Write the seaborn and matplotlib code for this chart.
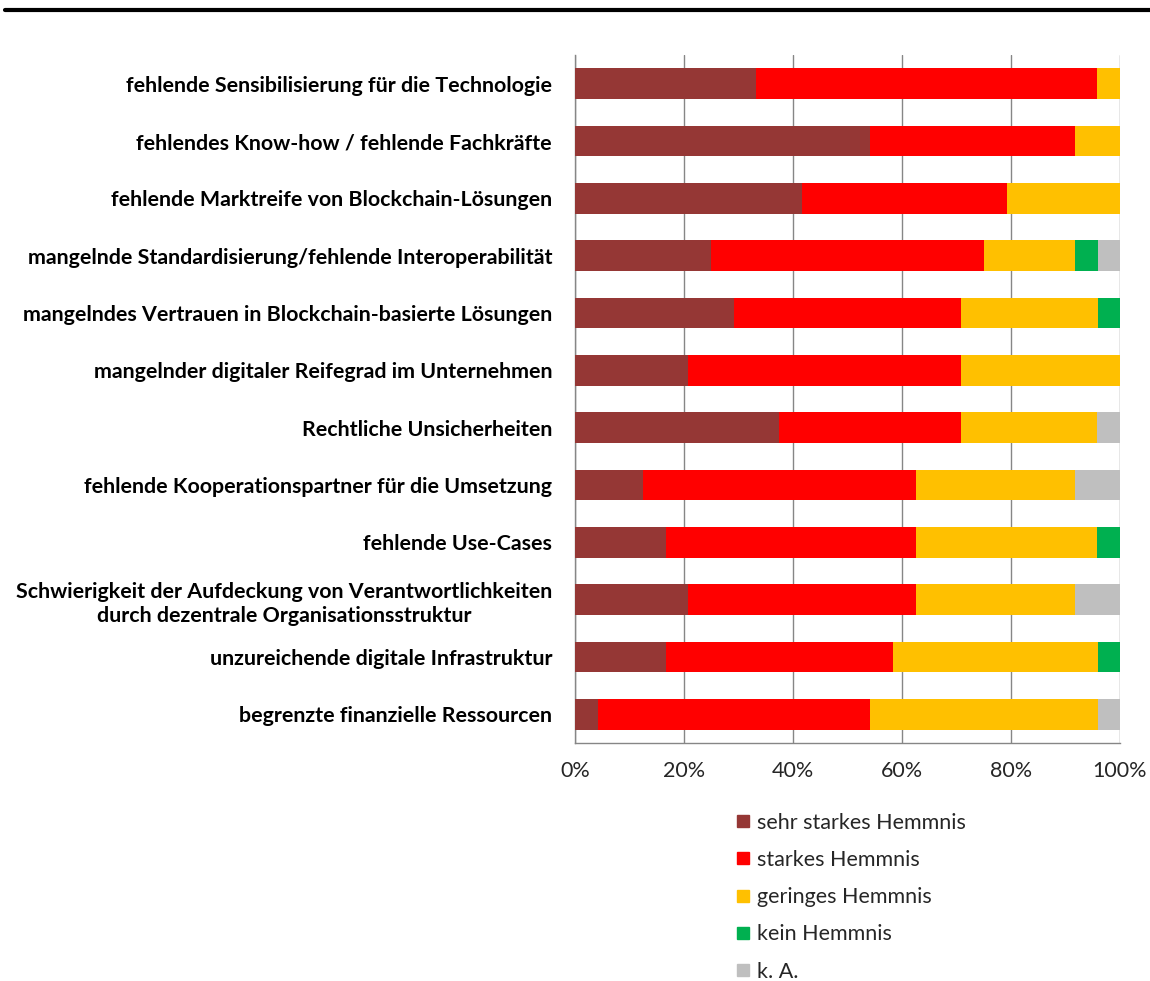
import numpy as np
import pandas as pd
import matplotlib
matplotlib.use("Agg")
import matplotlib.pyplot as plt
from matplotlib.lines import Line2D
import seaborn as sns

categories = [
    "fehlende Sensibilisierung für die Technologie",
    "fehlendes Know-how / fehlende Fachkräfte",
    "fehlende Marktreife von Blockchain-Lösungen",
    "mangelnde Standardisierung/fehlende Interoperabilität",
    "mangelndes Vertrauen in Blockchain-basierte Lösungen",
    "mangelnder digitaler Reifegrad im Unternehmen",
    "Rechtliche Unsicherheiten",
    "fehlende Kooperationspartner für die Umsetzung",
    "fehlende Use-Cases",
    "Schwierigkeit der Aufdeckung von Verantwortlichkeiten\ndurch dezentrale Organisationsstruktur",
    "unzureichende digitale Infrastruktur",
    "begrenzte finanzielle Ressourcen",
]
series = ["sehr starkes Hemmnis", "starkes Hemmnis", "geringes Hemmnis", "kein Hemmnis", "k. A."]
colors = ["#953735", "#FF0000", "#FFC000", "#00B050", "#BFBFBF"]

sehr_stark = [33.3, 54.2, 41.7, 25.0, 29.2, 20.8, 37.5, 12.5, 16.7, 20.8, 16.7, 4.2]
stark = [62.5, 37.5, 37.5, 50.0, 41.7, 50.0, 33.3, 50.0, 45.8, 41.7, 41.7, 50.0]
gering = [4.2, 8.3, 20.8, 16.7, 25.0, 29.2, 25.0, 29.2, 33.3, 29.2, 37.5, 41.7]
kein = [0.0, 0.0, 0.0, 4.2, 4.2, 0.0, 0.0, 0.0, 4.2, 0.0, 4.2, 0.0]
k_a = [0.0, 0.0, 0.0, 4.1, 0.0, 0.0, 4.2, 8.3, 0.0, 8.3, 0.0, 4.1]

df = pd.DataFrame({"Kategorie": categories})
for name, vals in zip(series, [sehr_stark, stark, gering, kein, k_a]):
    df[name] = vals
cum = df[series].cumsum(axis=1)

sns.set_style("white")
plt.rcParams["font.family"] = ["Lato", "DejaVu Sans"]

fig = plt.figure(figsize=(11.5, 9.81), dpi=100)
ax = fig.add_axes([575 / 1150, 1 - 743 / 981, 545 / 1150, 688 / 981])

# stacked bars: draw cumulative layers from the back to the front
for name, col in reversed(list(zip(series, colors))):
    sns.barplot(x=cum[name], y=df["Kategorie"], color=col, orient="h",
                width=0.54, ax=ax, saturation=1, zorder=3, linewidth=0)

ax.set_xlim(0, 100)
ax.set_ylim(11.5, -0.5)
ax.set_xticks(np.arange(0, 101, 20))
ax.set_xticklabels([f"{v}%" for v in range(0, 101, 20)], fontsize=15.5, color="#262626")
ax.set_yticks(range(len(categories)))
ax.set_yticklabels(categories, fontsize=15.4, fontweight="bold", color="black",
                   linespacing=1.25, ha="right")
ax.set_yticks(np.arange(-0.5, 12, 1), minor=True)
ax.tick_params(axis="y", which="major", length=0, pad=16.5)
ax.tick_params(axis="y", which="minor", length=6, color="#868686", width=1)
ax.tick_params(axis="x", which="major", length=7, color="#868686", width=1, pad=6)
for lbl in ax.get_yticklabels():
    lbl.set_multialignment("center")

ax.set_xlabel("")
ax.set_ylabel("")
ax.grid(axis="x", color="#868686", linewidth=1, zorder=0)
ax.set_axisbelow(True)
for s in ["top", "right"]:
    ax.spines[s].set_visible(False)
for s in ["left", "bottom"]:
    ax.spines[s].set_color("#868686")
    ax.spines[s].set_linewidth(1)

handles = [Line2D([0], [0], marker="s", linestyle="none", markersize=9,
                  markerfacecolor=c, markeredgecolor=c) for c in colors]
fig.legend(handles, series, loc="upper left", bbox_to_anchor=(721 / 1150, 1 - 802 / 981),
           frameon=False, fontsize=15.5, handletextpad=0.15, labelspacing=0.8,
           handlelength=1.0, borderpad=0, labelcolor="#262626")

# rule at the top of the page
fig.add_artist(Line2D([5 / 1150, 1], [1 - 10 / 981, 1 - 10 / 981], color="black", linewidth=3))

fig.savefig("out.png", dpi=100)
